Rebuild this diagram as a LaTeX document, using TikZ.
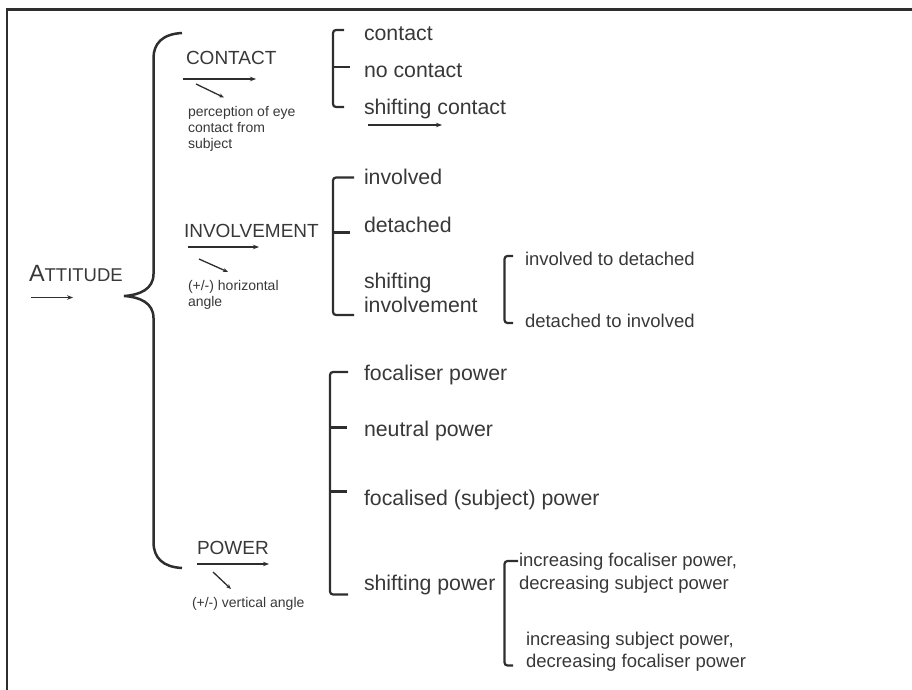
\documentclass[tikz,border=0pt]{standalone}
\usepackage{fontspec}
\setmainfont{Liberation Sans}
\usetikzlibrary{arrows.meta}
\definecolor{ink}{HTML}{2E2E2E}
\definecolor{txt}{HTML}{383838}
\begin{document}
\begin{tikzpicture}[x=1pt,y=-1pt,
  lbl/.style={anchor=base west,inner sep=0pt,outer sep=0pt,text=txt},
  big/.style={lbl,font=\fontsize{21.3}{24}\selectfont},
  caps/.style={lbl,font=\fontsize{19}{22}\selectfont},
  mid/.style={lbl,font=\fontsize{18.5}{21}\selectfont},
  small/.style={lbl,font=\fontsize{14}{16}\selectfont},
  brk/.style={draw=ink,line width=2.2pt,rounded corners=3pt},
  tick/.style={draw=ink,line width=2.2pt},
  brace/.style={draw=ink,line width=2.5pt},
  arr/.style={draw=ink,line width=1.5pt,-{Stealth[length=6pt,width=4.5pt]}},
  darr/.style={draw=ink,line width=1.3pt,-{Stealth[length=5pt,width=4pt]}}]
\useasboundingbox (0,0) rectangle (912,690);
% frame (top and left edges visible)
\draw[ink,line width=2.6pt] (912,9.5) -- (7,9.5) -- (7,690);

% ATTITUDE
\node[lbl] (att) at (29,281.5) {\fontsize{23.5}{26}\selectfont A\fontsize{18.5}{21}\selectfont TTITUDE};
\coordinate (attA) at (31,297.5);
\coordinate (attB) at (73,297.5);
\draw[arr] (attA) -- (attB);

% big brace
\draw[brace] (182,33) .. controls (162,34) and (153.5,44) .. (153.5,58)
  -- (153.5,274) .. controls (153.5,289) and (140,295) .. (124,296)
  .. controls (140,297) and (153.5,303) .. (153.5,318)
  -- (153.5,542) .. controls (153.5,558) and (163,567) .. (182,568);

% CONTACT
\node[caps] (con) at (186,65) {CONTACT};
\coordinate (conA) at (183,79);
\coordinate (conB) at (256,79);
\draw[arr] (conA) -- (conB);
\coordinate (conC) at (196,84);
\coordinate (conD) at (224,97.5);
\draw[darr] (conC) -- (conD);
\node[small] (con1) at (188,116.5) {perception of eye};
\node[small] (con2) at (188,132.5) {contact from};
\node[small] (con3) at (188,148.5) {subject};

% INVOLVEMENT
\node[caps] (inv) at (184,237) {INVOLVEMENT};
\coordinate (invA) at (188,247);
\coordinate (invB) at (259,247);
\draw[arr] (invA) -- (invB);
\coordinate (invC) at (199,259);
\coordinate (invD) at (228,272);
\draw[darr] (invC) -- (invD);
\node[small] (inv1) at (188,290.5) {(+/-) horizontal};
\node[small] (inv2) at (188,306) {angle};

% POWER
\node[caps] (pow) at (197,554) {POWER};
\coordinate (powA) at (197,564);
\coordinate (powB) at (269,564);
\draw[arr] (powA) -- (powB);
\coordinate (powC) at (213,572);
\coordinate (powD) at (231,589);
\draw[darr] (powC) -- (powD);
\node[small] (pow1) at (192,607) {(+/-) vertical angle};

% contact bracket
\draw[brk] (344,30) -- (333,30) -- (333,107) -- (344,107);
\draw[tick] (333,67) -- (350,67);
\node[big] (c1) at (364,41) {contact};
\node[big] (c2) at (364,78) {no contact};
\node[big] (c3) at (364,115) {shifting contact};
\coordinate (c3A) at (368,125);
\coordinate (c3B) at (442,125);
\draw[arr] (c3A) -- (c3B);

% involvement bracket
\draw[brk] (354,177.5) -- (333,177.5) -- (333,315) -- (354,315);
\draw[tick] (333,232.5) -- (350,232.5);
\node[big] (i1) at (364,184) {involved};
\node[big] (i2) at (364,232.5) {detached};
\node[big] (i3) at (364,288) {shifting};
\node[big] (i4) at (364,312.5) {involvement};
% sub bracket
\draw[brk] (513,256) -- (504.5,256) -- (504.5,323) -- (513,323);
\node[mid] (s1) at (525,265) {involved to detached};
\node[mid] (s2) at (525,327) {detached to involved};

% power bracket
\draw[brk] (348,372) -- (330,372) -- (330,594.5) -- (348,594.5);
\draw[tick] (330,427.5) -- (347,427.5);
\draw[tick] (330,491.5) -- (347,491.5);
\node[big] (p1) at (364,380) {focaliser power};
\node[big] (p2) at (364,436.5) {neutral power};
\node[big] (p3) at (364,505.5) {focalised (subject) power};
\node[big] (p4) at (364,590.5) {shifting power};
% sub bracket
\draw[brk] (518,561) -- (504.5,561) -- (504.5,665.5) -- (513,665.5);
\node[mid] (q1) at (519,566.5) {increasing focaliser power,};
\node[mid] (q2) at (519,589) {decreasing subject power};
\node[mid] (q3) at (526,645.5) {increasing subject power,};
\node[mid] (q4) at (526,667.5) {decreasing focaliser power};
\end{tikzpicture}
\end{document}
